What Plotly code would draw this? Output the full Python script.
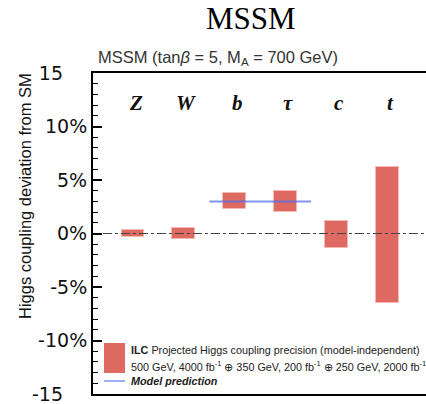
import plotly.graph_objects as go

# Projected ILC coupling precision bands (in % deviation from SM)
categories = ["Z", "W", "b", "τ", "c", "t"]
band_upper = [0.32, 0.47, 3.79, 3.94, 1.13, 6.23]
band_lower = [-0.37, -0.47, 2.25, 2.04, -1.37, -6.47]

# MSSM prediction (tanβ = 5, M_A = 700 GeV) for the down-type couplings
model_channels = ["b", "τ"]
model_value = 3.0

y_tickvals = [-15, -10, -5, 0, 5, 10, 15]
y_ticktext = ["-15\u00a0\u00a0\u00a0\u00a0", "-10%", "-5%", "0%", "5%", "10%",
              "15\u00a0\u00a0\u00a0\u00a0"]

W, H = 426, 404
L, R, T, B = 93, 426, 73, 394

def px(x):
    return (x - L) / (R - L)

def py(y):
    return (B - y) / (B - T)

BAR = "#de6a62"
BLUE = "rgba(80,110,235,0.72)"

xpos = list(range(len(categories)))
fig = go.Figure()
fig.add_trace(go.Bar(
    x=xpos,
    y=[u - l for u, l in zip(band_upper, band_lower)],
    base=band_lower,
    width=0.45,
    marker=dict(color=BAR, line=dict(color="rgba(245,185,180,1)", width=1)),
    showlegend=False,
    hoverinfo="skip",
))

# model prediction line across the b and τ columns
i0 = categories.index(model_channels[0])
i1 = categories.index(model_channels[-1])
fig.add_trace(go.Scatter(
    x=[i0 - 0.5, i1 + 0.5], y=[model_value, model_value],
    mode="lines", line=dict(color=BLUE, width=2),
    showlegend=False, hoverinfo="skip",
))

# zero reference line
fig.add_shape(type="line", xref="x", yref="y", x0=-0.59, x1=6, y0=0, y1=0,
              line=dict(color="#444", width=1.2, dash="dashdot"), layer="above")

# channel labels along the top of the frame
for i, c in enumerate(categories):
    fig.add_annotation(x=i + 0.05, y=12.2, xref="x", yref="y", text=f"<b><i>{c}</i></b>",
                       showarrow=False,
                       font=dict(family="Liberation Serif", size=21, color="#111"))

# title and subtitle
fig.add_annotation(x=px(251), y=py(18), xref="paper", yref="paper", text="MSSM",
                   showarrow=False, xanchor="center", yanchor="middle",
                   font=dict(family="Liberation Serif", size=31, color="#000"))
fig.add_annotation(x=px(96), y=py(58), xref="paper", yref="paper",
                   text="MSSM (tan<i>β</i> = 5, M<sub>A</sub> = 700 GeV)",
                   showarrow=False, xanchor="left", yanchor="middle",
                   font=dict(family="Liberation Sans", size=16.5, color="#333"))

# y-axis title
fig.add_annotation(x=px(25), y=py(196), xref="paper", yref="paper",
                   text="Higgs coupling deviation from SM", textangle=-90,
                   showarrow=False, xanchor="center", yanchor="middle",
                   font=dict(family="Liberation Sans", size=16.5, color="#111"))

# legend block
fig.add_shape(type="rect", xref="paper", yref="paper",
              x0=px(104), x1=px(125), y0=py(373), y1=py(343),
              fillcolor=BAR, line=dict(width=0))
fig.add_shape(type="line", xref="paper", yref="paper",
              x0=px(104), x1=px(125), y0=py(381), y1=py(381),
              line=dict(color=BLUE, width=1.5))
leg_font = dict(family="Liberation Sans", size=10.8, color="#222")
fig.add_annotation(x=px(129), y=py(350), xref="paper", yref="paper",
                   text="<b>ILC</b> Projected Higgs coupling precision (model-independent)",
                   showarrow=False, xanchor="left", yanchor="middle", font=leg_font)
fig.add_annotation(x=px(129), y=py(366), xref="paper", yref="paper",
                   text="500 GeV, 4000 fb<sup>-1</sup> ⊕ 350 GeV, 200 fb<sup>-1</sup> ⊕ 250 GeV, 2000 fb<sup>-1</sup>",
                   showarrow=False, xanchor="left", yanchor="middle", font=leg_font)
fig.add_annotation(x=px(129), y=py(381), xref="paper", yref="paper",
                   text="<b><i>Model prediction</i></b>",
                   showarrow=False, xanchor="left", yanchor="middle", font=leg_font)

fig.update_layout(
    width=W, height=H,
    margin=dict(l=L, r=W - R, t=T, b=H - B, pad=0),
    paper_bgcolor="white", plot_bgcolor="white",
    bargap=0,
    xaxis=dict(range=[(L - 133) / 50.9, (R - 133) / 50.9], showgrid=False, zeroline=False,
               showticklabels=False, ticks="", showline=True, linecolor="#000",
               linewidth=2, mirror=True, fixedrange=True),
    yaxis=dict(range=[-15, 15], tickvals=y_tickvals, ticktext=y_ticktext,
               showgrid=False, zeroline=False, showline=True, linecolor="#000",
               linewidth=2, mirror=False, ticks="inside", ticklen=9, tickwidth=1.5,
               tickcolor="#000",
               minor=dict(dtick=1, ticks="inside", ticklen=5, tickwidth=1.2,
                          tickcolor="#000", showgrid=False),
               tickfont=dict(family="DejaVu Sans", size=19, color="#111"),
               ticklabelstandoff=0, ticklabeloverflow="allow"),
)

fig.write_html("out.html")
